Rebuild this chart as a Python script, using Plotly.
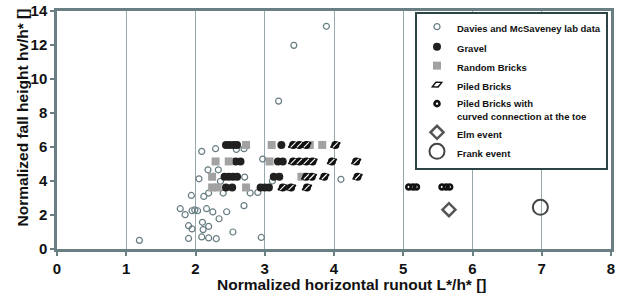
import plotly.graph_objects as go

# ---- data ----
davies_x = [1.19, 3.42, 3.20, 3.89, 4.10, 2.09, 2.29, 2.59, 2.70, 2.97, 2.05, 2.18, 2.33, 2.36,
            2.40, 2.71, 2.79, 2.90, 3.11, 1.94, 2.12, 2.19, 1.78, 1.85, 1.95, 1.99, 2.03, 2.16,
            2.25, 2.45, 2.34, 2.70, 1.90, 1.95, 2.10, 2.11, 2.19, 2.54, 1.90, 2.09, 2.19, 2.30, 2.95]
davies_y = [0.51, 11.98, 8.70, 13.10, 4.10, 5.74, 5.90, 5.86, 5.90, 5.29, 4.13, 4.66, 4.66, 3.98,
            3.29, 4.23, 3.29, 3.33, 4.00, 3.15, 3.09, 3.29, 2.37, 2.02, 2.25, 2.30, 2.25, 2.37,
            2.18, 2.19, 1.78, 2.55, 1.37, 1.18, 1.57, 1.14, 1.33, 1.00, 0.62, 0.71, 0.65, 0.61, 0.68]

gravel_x = [2.44, 2.49, 2.55, 2.60, 3.24,
            2.58, 2.65, 3.19, 3.26,
            2.42, 2.48, 2.54, 2.60, 3.13, 3.21,
            2.44, 2.53, 2.94, 3.00, 3.06]
gravel_y = [6.12, 6.12, 6.12, 6.12, 6.12,
            5.15, 5.15, 5.15, 5.15,
            4.25, 4.25, 4.25, 4.25, 4.25, 4.25,
            3.62, 3.62, 3.62, 3.62, 3.62]

random_x = [2.73, 3.10, 3.65, 3.83,
            2.29, 2.48, 3.07,
            2.24, 3.53,
            2.24, 2.32, 2.73]
random_y = [6.12, 6.12, 6.12, 6.12,
            5.15, 5.15, 5.15,
            4.25, 4.25,
            3.62, 3.62, 3.62]

piled_x = [3.41, 3.50, 3.60, 4.02,
           3.41, 3.50, 3.60, 3.69, 3.97, 4.32,
           3.60, 3.68, 3.86, 4.34,
           3.26, 3.38, 3.61]
piled_y = [6.12, 6.12, 6.12, 6.12,
           5.15, 5.15, 5.15, 5.15, 5.15, 5.15,
           4.25, 4.25, 4.25, 4.25,
           3.62, 3.62, 3.62]

curved_x = [5.08, 5.14, 5.19, 5.56, 5.62, 5.67]
curved_y = [3.65, 3.65, 3.65, 3.65, 3.65, 3.65]

elm_x = [5.66]
elm_y = [2.31]
frank_x = [6.98]
frank_y = [2.45]

x_ticks = [0, 1, 2, 3, 4, 5, 6, 7, 8]
y_ticks = [0, 2, 4, 6, 8, 10, 12, 14]

AXIS = "#6a7f83"
GRID = "#98a9ad"
FONT = "Liberation Sans"

fig = go.Figure()
fig.add_trace(go.Scatter(x=davies_x, y=davies_y, mode="markers", name="Davies and McSaveney lab data",
                         legendgroup="a",
                         marker=dict(symbol="circle-open", size=6, color="#667c82", line=dict(width=1.2))))
fig.add_trace(go.Scatter(x=gravel_x, y=gravel_y, mode="markers", name="Gravel", legendgroup="b",
                         marker=dict(symbol="circle", size=8, color="#202020")))
fig.add_trace(go.Scatter(x=random_x, y=random_y, mode="markers", name="Random Bricks", legendgroup="b",
                         marker=dict(symbol="square", size=8, color="#a2a2a2")))
# piled bricks: black body + tilted outline + white hatch
fig.add_trace(go.Scatter(x=piled_x, y=piled_y, mode="markers", showlegend=False, legendgroup="b",
                         hoverinfo="skip",
                         marker=dict(symbol="circle", size=8, color="#111111")))
fig.add_trace(go.Scatter(x=piled_x, y=piled_y, mode="markers", name="Piled Bricks", legendgroup="b",
                         marker=dict(symbol="diamond-wide-open", size=7.5, angle=-25, color="#111111",
                                     line=dict(width=1.4))))
fig.add_trace(go.Scatter(x=piled_x, y=piled_y, mode="markers", showlegend=False, legendgroup="b",
                         hoverinfo="skip",
                         marker=dict(symbol="line-ne", size=5, color="white",
                                     line=dict(width=1.1, color="white"))))
fig.add_trace(go.Scatter(x=curved_x, y=curved_y, mode="markers",
                         name="Piled Bricks with<br>curved connection at the toe", legendgroup="b",
                         marker=dict(symbol="circle-open", size=5, color="#111111", line=dict(width=2.6))))
fig.add_trace(go.Scatter(x=elm_x, y=elm_y, mode="markers", name="Elm event", legendgroup="c",
                         marker=dict(symbol="diamond-open", size=10, color="#555555", line=dict(width=2.5))))
fig.add_trace(go.Scatter(x=frank_x, y=frank_y, mode="markers", name="Frank event", legendgroup="c",
                         marker=dict(symbol="circle-open", size=15, color="#444444", line=dict(width=2))))

fig.update_layout(
    width=624, height=296,
    margin=dict(l=57, r=13, t=11, b=47, autoexpand=False),
    paper_bgcolor="white", plot_bgcolor="white",
    font=dict(family=FONT, color="#111111"),
    legend=dict(x=0.9946, xanchor="right", y=0.996, yanchor="top",
                bgcolor="white", bordercolor="#2c4446", borderwidth=2,
                font=dict(family=FONT, size=9.5, weight="bold", color="#111111"),
                traceorder="grouped", tracegroupgap=1, valign="top",
                itemsizing="trace"),
    xaxis=dict(range=[0, 8], tickvals=x_ticks, showgrid=True, gridcolor=GRID, gridwidth=1.3,
               showline=True, linecolor=AXIS, linewidth=2.5, mirror=True, zeroline=False,
               ticks="outside", ticklen=4, tickcolor=AXIS, tickwidth=1.5, automargin=False,
               tickfont=dict(family=FONT, size=15, weight="bold", color="#111111")),
    yaxis=dict(range=[0, 14], tickvals=y_ticks, showgrid=False,
               showline=True, linecolor=AXIS, linewidth=2.5, mirror=True, zeroline=False,
               ticks="outside", ticklen=4, tickcolor=AXIS, tickwidth=1.5, automargin=False,
               tickfont=dict(family=FONT, size=15, weight="bold", color="#111111")),
    annotations=[
        dict(text="Normalized horizontal runout L*/h* []", xref="paper", yref="paper",
             x=0.532, y=-0.151, xanchor="center", yanchor="middle", showarrow=False,
             font=dict(family=FONT, size=15.5, weight="bold", color="#111111")),
        dict(text="Normalized fall height hv/h* []", xref="paper", yref="paper",
             x=-0.0615, y=0.5525, xanchor="center", yanchor="middle", showarrow=False,
             textangle=-90, font=dict(family=FONT, size=15.5, weight="bold", color="#111111")),
    ],
)

fig.write_html("out.html", config={"displayModeBar": False},
               post_script="document.body.style.margin='0';")
